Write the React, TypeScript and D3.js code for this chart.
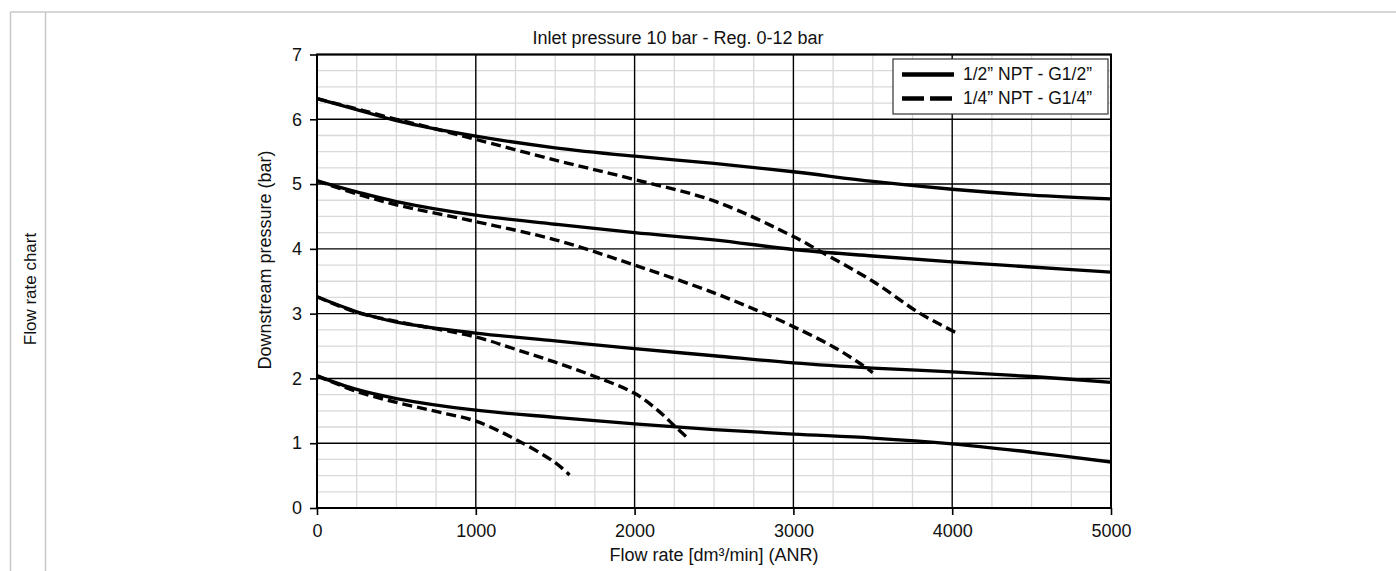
import React, { useEffect, useRef } from "react";
import * as d3 from "d3";

const W = 1396;
const H = 571;
const FONT = "'Liberation Sans', Arial, Helvetica, sans-serif";

const xTicks = [0, 1000, 2000, 3000, 4000, 5000];
const yTicks = [0, 1, 2, 3, 4, 5, 6, 7];

// 1/2" NPT - G1/2" (solid)
const flowSolid = [0, 250, 500, 1000, 1500, 2000, 2500, 3000, 3500, 4000, 4500, 5000];
const solidP6 = [6.32, 6.15, 5.98, 5.74, 5.56, 5.43, 5.32, 5.19, 5.04, 4.92, 4.83, 4.77];
const solidP5 = [5.05, 4.88, 4.73, 4.52, 4.38, 4.25, 4.14, 3.99, 3.89, 3.8, 3.72, 3.64];
const solidP3 = [3.26, 3.03, 2.87, 2.7, 2.58, 2.46, 2.35, 2.24, 2.16, 2.1, 2.03, 1.94];
const solidP2 = [2.04, 1.83, 1.69, 1.51, 1.4, 1.3, 1.21, 1.14, 1.08, 0.99, 0.86, 0.71];

// 1/4" NPT - G1/4" (dashed)
const flowDash6 = [0, 250, 500, 750, 1000, 1500, 2000, 2500, 3000, 3170, 3500, 3800, 4030];
const dashP6 = [6.32, 6.16, 6.0, 5.85, 5.69, 5.37, 5.07, 4.74, 4.19, 3.96, 3.5, 3.0, 2.7];
const flowDash5 = [0, 250, 500, 1000, 1500, 2000, 2500, 2790, 3000, 3250, 3420, 3500];
const dashP5 = [5.05, 4.85, 4.68, 4.42, 4.14, 3.75, 3.32, 3.03, 2.8, 2.49, 2.23, 2.09];
const flowDash3 = [0, 250, 500, 1000, 1250, 1500, 1750, 2000, 2150, 2250, 2330];
const dashP3 = [3.26, 3.02, 2.88, 2.64, 2.45, 2.25, 2.03, 1.77, 1.5, 1.27, 1.09];
const flowDash2 = [0, 250, 500, 750, 1000, 1250, 1500, 1590];
const dashP2 = [2.04, 1.8, 1.63, 1.49, 1.34, 1.06, 0.7, 0.51];

const solidSeries = [solidP6, solidP5, solidP3, solidP2];
const dashedSeries: [number[], number[]][] = [
  [flowDash6, dashP6],
  [flowDash5, dashP5],
  [flowDash3, dashP3],
  [flowDash2, dashP2],
];

const legendLabels = ["1/2\u201D NPT - G1/2\u201D", "1/4\u201D NPT - G1/4\u201D"];

export default function App() {
  const gx = useRef<SVGGElement>(null);
  const gy = useRef<SVGGElement>(null);

  const x = d3.scaleLinear().domain([0, 5000]).range([317, 1111]);
  const y = d3.scaleLinear().domain([0, 7]).range([508, 54.5]);

  const line = d3
    .line<[number, number]>()
    .x((d) => x(d[0]))
    .y((d) => y(d[1]))
    .curve(d3.curveCatmullRom.alpha(0.5));

  useEffect(() => {
    const ax = d3.select(gx.current as SVGGElement);
    ax.call(
      d3
        .axisBottom(x)
        .tickValues(xTicks)
        .tickSize(7)
        .tickPadding(9)
        .tickFormat(d3.format("d")) as any
    );
    ax.select(".domain").remove();
    ax.attr("font-size", 18).attr("font-family", FONT);
    ax.selectAll("line").attr("stroke", "#000").attr("stroke-width", 1.6);
    ax.selectAll("text").attr("fill", "#111");

    const ay = d3.select(gy.current as SVGGElement);
    ay.call(
      d3
        .axisLeft(y)
        .tickValues(yTicks)
        .tickSize(7)
        .tickPadding(8)
        .tickFormat(d3.format("d")) as any
    );
    ay.select(".domain").remove();
    ay.attr("font-size", 18).attr("font-family", FONT);
    ay.selectAll("line").attr("stroke", "#000").attr("stroke-width", 1.6);
    ay.selectAll("text").attr("fill", "#111");
  }, []);

  const minorX = d3.range(0, 5001, 250).filter((v) => v % 1000 !== 0);
  const minorY = d3.range(0, 7.001, 0.25).filter((v) => Math.abs(v - Math.round(v)) > 0.01);

  const x0 = x(0), x1 = x(5000), y0 = y(0), y1 = y(7);

  return (
    <svg
      width={W}
      height={H}
      style={{ position: "absolute", left: 0, top: 0, background: "#fff" }}
      fontFamily={FONT}
    >
      <rect x={0} y={0} width={W} height={H} fill="#fff" />
      {/* outer frame */}
      <line x1={10.5} y1={12} x2={W} y2={12} stroke="#c8c8c8" strokeWidth={1.5} />
      <line x1={10.5} y1={12} x2={10.5} y2={H} stroke="#c8c8c8" strokeWidth={1.5} />
      <line x1={45.5} y1={12} x2={45.5} y2={H} stroke="#c8c8c8" strokeWidth={1.5} />
      <text
        transform={`translate(35.5,289) rotate(-90)`}
        textAnchor="middle"
        fontSize={17}
        fill="#111"
      >
        Flow rate chart
      </text>

      {/* minor grid */}
      <g stroke="#d9d9d9" strokeWidth={1.3}>
        {minorX.map((v) => (
          <line key={"mx" + v} x1={x(v)} x2={x(v)} y1={y0} y2={y1} />
        ))}
        {minorY.map((v) => (
          <line key={"my" + v} x1={x0} x2={x1} y1={y(v)} y2={y(v)} />
        ))}
      </g>
      {/* major grid */}
      <g stroke="#000" strokeWidth={1.4}>
        {xTicks.map((v) => (
          <line key={"Mx" + v} x1={x(v)} x2={x(v)} y1={y0} y2={y1} />
        ))}
        {yTicks.map((v) => (
          <line key={"My" + v} x1={x0} x2={x1} y1={y(v)} y2={y(v)} />
        ))}
      </g>

      {/* curves */}
      <g fill="none" stroke="#000" strokeLinecap="butt">
        {solidSeries.map((s, i) => (
          <path
            key={"s" + i}
            d={line(flowSolid.map((f, j) => [f, s[j]] as [number, number])) || ""}
            strokeWidth={3.3}
          />
        ))}
        {dashedSeries.map(([fl, s], i) => (
          <path
            key={"d" + i}
            d={line(fl.map((f, j) => [f, s[j]] as [number, number])) || ""}
            strokeWidth={3.4}
            strokeDasharray="10,5"
          />
        ))}
      </g>

      {/* plot frame */}
      <rect x={x0} y={y1} width={x1 - x0} height={y0 - y1} fill="none" stroke="#000" strokeWidth={2} />

      {/* axes */}
      <g ref={gx} transform={`translate(0,${y0})`} />
      <g ref={gy} transform={`translate(${x0},0)`} />

      {/* title & labels */}
      <text x={678} y={44} textAnchor="middle" fontSize={18} fill="#111">
        Inlet pressure 10 bar - Reg. 0-12 bar
      </text>
      <text x={714} y={561} textAnchor="middle" fontSize={18} fill="#111">
        Flow rate [dm³/min] (ANR)
      </text>
      <text
        transform={`translate(271,260) rotate(-90)`}
        textAnchor="middle"
        fontSize={18}
        fill="#111"
      >
        Downstream pressure (bar)
      </text>

      {/* legend */}
      <g>
        <rect x={893} y={59} width={215} height={55} fill="#fff" stroke="#333" strokeWidth={1.2} />
        <line x1={902} x2={954} y1={74.5} y2={74.5} stroke="#000" strokeWidth={4.5} />
        <line
          x1={902}
          x2={954}
          y1={98.5}
          y2={98.5}
          stroke="#000"
          strokeWidth={4.5}
          strokeDasharray="22,6"
        />
        <text x={963} y={80} fontSize={17.5} fill="#111">
          {legendLabels[0]}
        </text>
        <text x={963} y={104} fontSize={17.5} fill="#111">
          {legendLabels[1]}
        </text>
      </g>
    </svg>
  );
}
